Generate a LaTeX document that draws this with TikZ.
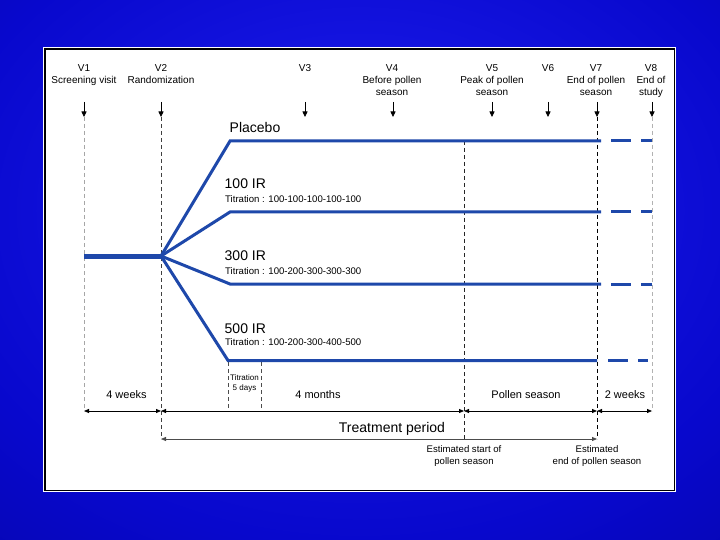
\documentclass[tikz,border=0pt]{standalone}
\usepackage{fontspec}
\setmainfont{Liberation Sans}
\usetikzlibrary{arrows.meta}
\definecolor{bgin}{RGB}{30,30,240}
\definecolor{bgmid}{RGB}{8,8,205}
\definecolor{bgout}{RGB}{0,0,110}
\definecolor{armc}{RGB}{30,72,170}
\pgfdeclareradialshading{bgshade}{\pgfpoint{0bp}{8bp}}{color(0bp)=(bgin); color(30bp)=(bgmid); color(72bp)=(bgout)}
\begin{document}
\begin{tikzpicture}[x=1pt,y=-1pt,
  lab/.style={font=\fontsize{10}{12}\selectfont, align=center, inner sep=0pt, anchor=base},
  armlab/.style={font=\fontsize{14}{16}\selectfont, inner sep=0pt, anchor=base west},
  titlab/.style={font=\fontsize{9.6}{11}\selectfont, inner sep=0pt, anchor=base west},
  durlab/.style={font=\fontsize{11}{13}\selectfont, inner sep=0pt, anchor=base},
  visarrow/.style={line width=0.8pt, -{Triangle[length=5.5pt,width=5pt]}},
  arm/.style={line width=3pt, armc},
  guide/.style={line width=0.7pt, dash pattern=on 4pt off 3pt},
  dim/.style={line width=0.8pt, {Triangle[length=5pt,width=4pt]}-{Triangle[length=5pt,width=4pt]}}
]
\useasboundingbox (0,0) rectangle (720,540);
\shade[shading=bgshade] (0,0) rectangle (720,540);
\fill[white] (43,47) rectangle (676,492);
\draw[black, line width=1.2pt] (45,49) rectangle (674.5,490.5);

% visit labels (anchor = baseline of last line)
\node[lab] (l1) at (84,83.5) {V1\\Screening visit};
\node[lab] (l2) at (161,83.5) {V2\\Randomization};
\node[lab] (l3) at (305,71.5) {V3};
\node[lab] (l4) at (392,95.5) {V4\\Before pollen\\season};
\node[lab] (l5) at (492,95.5) {V5\\Peak of pollen\\season};
\node[lab] (l6) at (548,71.5) {V6};
\node[lab] (l7) at (596,95.5) {V7\\End of pollen\\season};
\node[lab] (l8) at (651,95.5) {V8\\End of\\study};

% visit arrows
\foreach \n/\x in {1/84,2/161,3/305,4/393,5/492,6/548,7/597,8/652}{
  \coordinate (at\n) at (\x,102);
  \coordinate (ab\n) at (\x,117);
  \draw[visarrow] (at\n) -- (ab\n);
}

% guide lines
\coordinate (g1b) at (84,411);
\coordinate (g2b) at (161,439);
\coordinate (g7b) at (597,439);
\coordinate (g8b) at (652,411);
\coordinate (est) at (464,141);
\coordinate (estb) at (464,439);
\draw[guide, gray!70] (ab1) -- (g1b);
\draw[guide, black!75] (ab2) -- (g2b);
\draw[guide, black] (ab7) -- (g7b);
\draw[guide, gray!60] (ab8) -- (g8b);
\draw[guide, black!85] (est) -- (estb);
\coordinate (t1) at (228,362);
\coordinate (t1b) at (228,411);
\coordinate (t2) at (261,362);
\coordinate (t2b) at (261,411);
\draw[guide, black!70] (t1) -- (t1b);
\draw[guide, black!70] (t2) -- (t2b);

% arms
\coordinate (start) at (84,256);
\coordinate (rand) at (161,256);
\draw[line width=5pt, armc] (start) -- (rand);

\coordinate (pb) at (230,141);  \coordinate (pe) at (601,141);
\coordinate (ab) at (230,212);  \coordinate (ae) at (601,212);
\coordinate (bb) at (230,284);  \coordinate (be) at (601,284);
\coordinate (cb) at (228,360.5);\coordinate (ce) at (597,360.5);
\draw[arm] (rand) -- (pb) -- (pe);
\draw[arm] (rand) -- (ab) -- (ae);
\draw[arm] (rand) -- (bb) -- (be);
\draw[arm] (rand) -- (cb) -- (ce);
\foreach \y/\a/\b/\c/\d in {141/611/631/641/652,212/611/631/641/652,284/611/631/641/652,360.5/608/628/638/648}{
  \coordinate (da) at (\a,\y); \coordinate (db) at (\b,\y);
  \coordinate (dc) at (\c,\y); \coordinate (dd) at (\d,\y);
  \draw[arm] (da) -- (db);
  \draw[arm] (dc) -- (dd);
}

% arm labels
\node[armlab] (plac) at (229.5,133) {Placebo};
\node[armlab] (ir1) at (224.5,189) {100 IR};
\node[titlab] (tt1) at (225,202.5) {Titration : 100-100-100-100-100};
\node[armlab] (ir3) at (224.5,260) {300 IR};
\node[titlab] (tt3) at (225,274.5) {Titration : 100-200-300-300-300};
\node[armlab] (ir5) at (224.5,333) {500 IR};
\node[titlab] (tt5) at (225,345.5) {Titration : 100-200-300-400-500};

% titration 5 days
\node[font=\fontsize{8}{10}\selectfont, align=center, inner sep=0pt, anchor=base] (tit) at (244.5,390) {Titration\\5 days};

% durations
\node[durlab] (w4) at (126.5,398) {4 weeks};
\node[durlab] (m4) at (318,398) {4 months};
\node[durlab] (ps) at (526,398) {Pollen season};
\node[durlab] (w2) at (625,398) {2 weeks};

% dimension arrows
\coordinate (d1) at (84,411);
\coordinate (d2) at (161,411);
\coordinate (d3) at (464,411);
\coordinate (d4) at (597,411);
\coordinate (d5) at (652,411);
\draw[dim] (d1) -- (d2);
\draw[dim] (d2) -- (d3);
\draw[dim] (d3) -- (d4);
\draw[dim] (d4) -- (d5);

\coordinate (tp1) at (161,439);
\coordinate (tp2) at (597,439);
\draw[dim, black!70] (tp1) -- (tp2);
\node[font=\fontsize{14}{16}\selectfont, inner sep=0pt, anchor=base] (tp) at (392,432) {Treatment period};

% estimated labels
\node[lab, font=\fontsize{9.6}{12}\selectfont] (es) at (464,464.5) {Estimated start of\\pollen season};
\node[lab, font=\fontsize{9.6}{12}\selectfont] (ee) at (597,464.5) {Estimated\\end of pollen season};
\end{tikzpicture}
\end{document}
